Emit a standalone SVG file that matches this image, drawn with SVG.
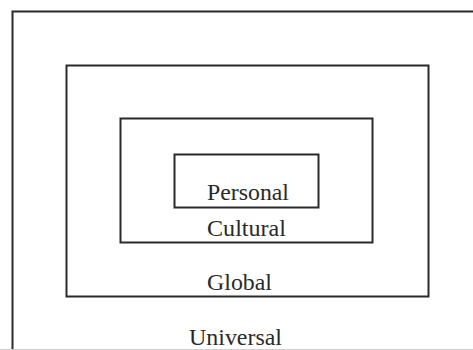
<svg xmlns="http://www.w3.org/2000/svg" width="473" height="350" viewBox="0 0 473 350">
<style>
.box{fill:none;stroke:#2a2a2a;stroke-width:2}
.lbl{font-family:"Liberation Serif","Times New Roman",serif;font-size:23px;fill:#2a2a2a}
</style>
<rect width="473" height="350" fill="#fff"/>
<g id="universal">
<path class="box" d="M475,11.5 H12.5 V350"/>
<line x1="0" y1="349.5" x2="473" y2="349.5" stroke="#cfcfcf" stroke-width="1"/>
<text class="lbl" x="189" y="345" textLength="93" lengthAdjust="spacingAndGlyphs">Universal</text>
</g>
<g id="global">
<rect class="box" x="66.5" y="65.5" width="362" height="231"/>
<text class="lbl" x="207" y="290" textLength="65" lengthAdjust="spacingAndGlyphs">Global</text>
</g>
<g id="cultural">
<rect class="box" x="120.5" y="118.5" width="252" height="124"/>
<text class="lbl" x="207" y="236" textLength="79" lengthAdjust="spacingAndGlyphs">Cultural</text>
</g>
<g id="personal">
<rect class="box" x="174.5" y="154.5" width="144" height="53"/>
<text class="lbl" x="207" y="200" textLength="82" lengthAdjust="spacingAndGlyphs">Personal</text>
</g>
<g id="connectors"></g>
</svg>
